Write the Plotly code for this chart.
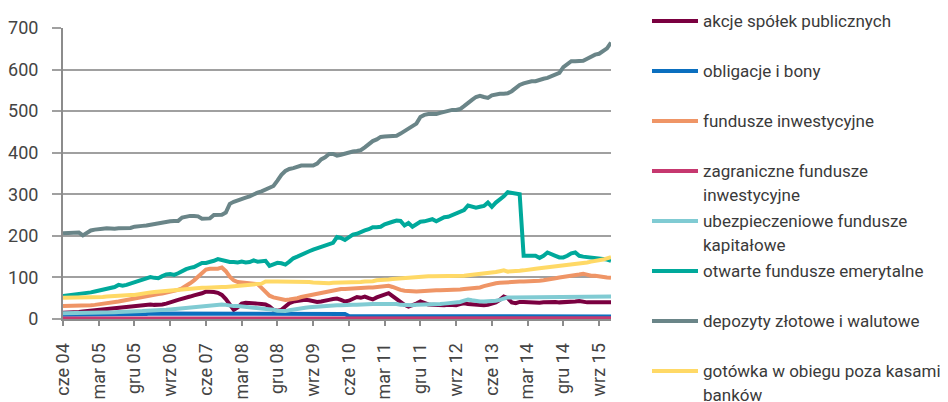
import plotly.graph_objects as go

# ---------------- data (monthly, cze 2004 - gru 2015) ----------------
mon_pl = ["sty", "lut", "mar", "kwi", "maj", "cze", "lip", "sie", "wrz", "paź", "lis", "gru"]
months = []
for yr in range(2004, 2016):
    for mi, m in enumerate(mon_pl):
        if yr == 2004 and mi < 5:
            continue
        months.append(f"{m} {str(yr)[2:]}")

tick_labels = ["cze 04", "mar 05", "gru 05", "wrz 06", "cze 07", "mar 08", "gru 08", "wrz 09",
               "cze 10", "mar 11", "gru 11", "wrz 12", "cze 13", "mar 14", "gru 14", "wrz 15"]
y_ticks = [0, 100, 200, 300, 400, 500, 600, 700]

akcje = [
    15, 15, 16, 16, 17, 18, 19, 20, 22, 23, 24, 25, 26, 27, 29, 30,
    31, 30, 31, 33, 34, 34, 35, 34, 34, 35, 37, 41, 43, 46, 48, 51,
    54, 57, 59, 62, 66, 66, 65, 63, 58, 48, 34, 22, 28, 37, 39, 39,
    38, 37, 36, 35, 30, 22, 20, 22, 30, 38, 42, 44, 46, 46, 45, 42,
    41, 42, 43, 46, 48, 49, 46, 42, 44, 48, 53, 51, 54, 50, 47, 52,
    55, 60, 62, 55, 48, 42, 34, 30, 33, 37, 42, 38, 35, 34, 33, 32,
    33, 34, 33, 33, 36, 38, 36, 35, 35, 34, 33, 34, 36, 40, 46, 54,
    50, 40, 38, 41, 41, 40, 40, 39, 39, 40, 41, 41, 41, 40, 40, 40,
    41, 42, 43, 41, 40, 40, 40, 40, 40, 40, 40]

obligacje = [
    10, 10, 10, 10, 10, 10, 10, 10, 10, 10, 10, 10, 10, 10, 10, 10,
    11, 11, 12, 12, 12, 12, 13, 13, 13, 13, 13, 13, 13, 13, 13, 13,
    13, 13, 13, 12, 12, 12, 12, 12, 12, 12, 12, 12, 12, 12, 12, 12,
    12, 12, 12, 12, 12, 12, 12, 12, 12, 12, 12, 12, 12, 12, 12, 12,
    12, 12, 12, 12, 12, 12, 12, 12, 7, 7, 7, 7, 7, 7, 7, 7,
    7, 7, 7, 7, 7, 7, 7, 6, 6, 6, 6, 6, 6, 6, 6, 6,
    6, 6, 6, 6, 6, 6, 6, 6, 6, 6, 6, 6, 6, 6, 6, 6,
    6, 6, 6, 6, 6, 6, 6, 6, 6, 6, 6, 6, 6, 6, 6, 6,
    6, 6, 6, 6, 6, 6, 6, 6, 6, 6, 6]

fundusze = [
    31, 31, 31, 31, 31, 32, 32, 33, 34, 35, 37, 38, 39, 41, 42, 44,
    46, 47, 49, 50, 52, 54, 56, 58, 60, 61, 63, 64, 66, 70, 74, 79,
    86, 93, 101, 110, 119, 121, 121, 121, 124, 115, 102, 93, 89, 88, 87, 87,
    86, 84, 75, 66, 56, 52, 50, 47, 46, 47, 48, 50, 53, 55, 58, 59,
    61, 63, 65, 68, 70, 71, 72, 72, 73, 74, 74, 75, 75, 76, 76, 77,
    78, 79, 80, 77, 73, 70, 68, 67, 66, 66, 67, 68, 68, 69, 69, 69,
    69, 69, 70, 70, 71, 72, 73, 74, 74, 76, 79, 82, 84, 86, 87, 88,
    89, 89, 90, 90, 90, 90, 91, 91, 92, 93, 94, 96, 98, 100, 101, 103,
    104, 105, 107, 109, 106, 104, 104, 102, 101, 100, 99]

zagraniczne = [
    1, 1, 1, 1, 1, 1, 1, 1, 1, 1, 1, 1, 1, 1, 1, 1,
    1, 1, 1, 1, 2, 2, 2, 2, 2, 2, 2, 2, 2, 2, 2, 2,
    2, 2, 2, 2, 2, 2, 2, 2, 2, 2, 2, 2, 2, 2, 2, 2,
    2, 2, 2, 2, 2, 2, 2, 2, 2, 2, 2, 2, 2, 2, 2, 2,
    2, 2, 2, 2, 2, 2, 2, 2, 2, 2, 2, 2, 2, 2, 2, 2,
    2, 2, 2, 2, 2, 2, 2, 2, 2, 2, 2, 2, 2, 2, 2, 2,
    2, 2, 2, 2, 2, 2, 2, 2, 2, 2, 2, 2, 2, 2, 2, 2,
    2, 2, 2, 2, 2, 2, 2, 2, 2, 2, 2, 2, 2, 2, 2, 2,
    2, 2, 2, 2, 2, 2, 2, 2, 2, 2, 2]

ubezpieczeniowe = [
    14, 14, 14, 14, 14, 14, 14, 15, 15, 15, 15, 16, 16, 16, 17, 17,
    17, 18, 18, 19, 19, 20, 20, 21, 21, 22, 22, 23, 24, 24, 25, 26,
    27, 28, 29, 30, 31, 32, 33, 35, 35, 34, 32, 31, 31, 30, 30, 30,
    29, 28, 27, 26, 24, 22, 20, 19, 19, 21, 23, 25, 26, 27, 28, 29,
    30, 31, 32, 32, 32, 33, 33, 34, 34, 34, 34, 35, 35, 35, 36, 36,
    36, 37, 38, 38, 36, 34, 33, 33, 33, 34, 34, 35, 35, 35, 36, 36,
    37, 38, 38, 39, 41, 44, 47, 45, 43, 42, 42, 42, 43, 44, 46, 49,
    52, 52, 52, 52, 52, 52, 53, 53, 53, 53, 53, 53, 53, 54, 54, 54,
    54, 54, 54, 54, 54, 54, 54, 54, 54, 54, 54]

ofe = [
    55, 56, 57, 58, 60, 61, 63, 64, 66, 68, 70, 72, 74, 77, 82, 80,
    82, 85, 88, 90, 93, 97, 101, 99, 98, 103, 107, 108, 106, 110, 116, 120,
    123, 125, 130, 135, 135, 137, 140, 144, 141, 139, 137, 137, 136, 138, 136, 137,
    141, 138, 139, 140, 128, 131, 135, 134, 131, 138, 146, 150, 155, 160, 163, 167,
    170, 173, 176, 179, 183, 197, 195, 190, 197, 203, 205, 210, 213, 216, 221, 221,
    222, 228, 232, 234, 237, 236, 225, 231, 222, 228, 234, 235, 238, 240, 235, 240,
    245, 246, 250, 253, 258, 262, 273, 270, 268, 270, 272, 280, 270, 280, 287, 295,
    305, 303, 300, 300, 152, 152, 152, 152, 147, 152, 160, 155, 152, 148, 148, 152,
    158, 160, 152, 150, 149, 148, 146, 145, 144, 143, 140]

depozyty = [
    206, 206, 207, 206, 208, 201, 206, 213, 215, 217, 217, 218, 217, 217, 218, 218,
    218, 219, 222, 222, 224, 225, 227, 229, 229, 232, 234, 235, 236, 236, 244, 247,
    248, 248, 247, 241, 241, 242, 250, 251, 251, 256, 277, 282, 286, 290, 292, 295,
    300, 304, 307, 311, 315, 320, 333, 347, 356, 361, 363, 367, 369, 369, 369, 369,
    374, 384, 389, 397, 397, 393, 395, 398, 402, 403, 404, 406, 413, 421, 428, 432,
    438, 439, 439, 439, 441, 446, 452, 458, 463, 470, 486, 491, 493, 493, 493, 496,
    499, 501, 503, 503, 505, 512, 521, 527, 534, 537, 534, 532, 538, 541, 542, 542,
    543, 548, 556, 563, 567, 570, 572, 572, 576, 578, 580, 584, 588, 592, 606, 614,
    620, 620, 621, 621, 626, 632, 636, 638, 646, 651, 665]

gotowka = [
    51, 51, 52, 52, 52, 52, 51, 52, 52, 53, 53, 54, 55, 55, 56, 56,
    57, 58, 58, 60, 62, 63, 64, 65, 66, 67, 68, 68, 69, 70, 71, 72,
    72, 73, 74, 75, 75, 76, 76, 77, 77, 77, 78, 79, 79, 80, 81, 82,
    82, 83, 85, 90, 91, 90, 90, 90, 91, 90, 90, 90, 90, 89, 89, 88,
    87, 86, 86, 86, 87, 87, 88, 88, 88, 88, 89, 89, 90, 90, 91, 93,
    93, 94, 95, 96, 97, 98, 99, 100, 101, 102, 101, 102, 103, 103, 103, 103,
    103, 103, 104, 102, 102, 104, 105, 106, 106, 107, 108, 110, 112, 113, 115, 117,
    114, 114, 115, 116, 117, 119, 120, 121, 122, 123, 124, 125, 127, 128, 129, 131,
    132, 133, 134, 135, 136, 138, 139, 141, 143, 146, 149]

series_names = [
    "akcje spółek publicznych",
    "obligacje i bony",
    "fundusze inwestycyjne",
    "zagraniczne fundusze inwestycyjne",
    "ubezpieczeniowe fundusze kapitałowe",
    "otwarte fundusze emerytalne",
    "depozyty złotowe i walutowe",
    "gotówka w obiegu poza kasami banków",
]
legend_lines = [
    ["akcje spółek publicznych"],
    ["obligacje i bony"],
    ["fundusze inwestycyjne"],
    ["zagraniczne fundusze", "inwestycyjne"],
    ["ubezpieczeniowe fundusze", "kapitałowe"],
    ["otwarte fundusze emerytalne"],
    ["depozyty złotowe i walutowe"],
    ["gotówka w obiegu poza kasami", "banków"],
]
series_values = [akcje, obligacje, fundusze, zagraniczne, ubezpieczeniowe, ofe, depozyty, gotowka]
colors = ["#7A0040", "#0B6FBF", "#EF9566", "#C6386F", "#80CBD3", "#00A99B", "#6A8588", "#FFD966"]

N = len(months)
for nm, s in zip(series_names, series_values):
    assert len(s) == N, (nm, len(s), N)

# ---------------- figure ----------------
# the page body has an 8px margin, so the figure starts at (8, 8) in the window
OFF = 8
W, H = 948 - OFF, 402 - OFF
ML, MR, MT, MB = 63 - OFF, 337, 28 - OFF, 83
PW, PH = W - ML - MR, H - MT - MB

fig = go.Figure()
for nm, s, c in zip(series_names, series_values, colors):
    fig.add_trace(go.Scatter(x=months, y=s, name=nm, mode="lines",
                             line=dict(color=c, width=4), showlegend=False))

FONT = "Roboto, 'DejaVu Sans', sans-serif"

fig.update_layout(
    width=W, height=H,
    margin=dict(l=ML, r=MR, t=MT, b=MB, pad=0, autoexpand=False),
    paper_bgcolor="white", plot_bgcolor="white",
    font=dict(family=FONT, size=18, color="#444444"),
    xaxis=dict(
        type="category", range=[0, N - 1], automargin=False,
        tickmode="array", tickvals=tick_labels, ticktext=tick_labels,
        tickangle=-90, ticks="outside", ticklen=5, tickwidth=1.5, tickcolor="#8c8c8c",
        showline=True, linecolor="#8c8c8c", linewidth=2,
        showgrid=False, zeroline=False,
        tickfont=dict(family=FONT, size=18, color="#444444"),
        ticklabelstandoff=10,
    ),
    yaxis=dict(
        range=[0, 700], tickmode="array", tickvals=y_ticks, automargin=False,
        ticks="outside", ticklen=9, tickwidth=2, tickcolor="#a0a0a0",
        showline=True, linecolor="#8c8c8c", linewidth=2,
        showgrid=True, gridcolor="#a0a0a0", gridwidth=2,
        zeroline=False,
        tickfont=dict(family=FONT, size=18, color="#444444"),
        ticklabelstandoff=10,
    ),
)


def px_x(px):
    # page pixel -> paper coordinate
    return (px - OFF - ML) / PW


def px_y(py):
    return (H - MB - (py - OFF)) / PH


legend_y = [21, 71, 121, 171, 221, 271, 321, 371]
for lines, c, ly in zip(legend_lines, colors, legend_y):
    fig.add_shape(type="line", xref="paper", yref="paper",
                  x0=px_x(652), x1=px_x(698), y0=px_y(ly), y1=px_y(ly),
                  line=dict(color=c, width=4))
    for k, txt in enumerate(lines):
        fig.add_annotation(xref="paper", yref="paper", x=px_x(701), y=px_y(ly + 24 * k),
                           text=txt, showarrow=False, xanchor="left", yanchor="middle",
                           font=dict(family=FONT, size=17, color="#3a3a3a"))

fig.write_html("out.html")
